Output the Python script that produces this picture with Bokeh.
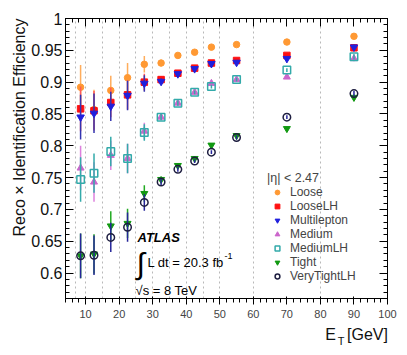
import numpy as np
from bokeh.plotting import figure
from bokeh.models import (FixedTicker, LinearAxis, Range1d, Label, Legend, LegendItem,
                          ColumnDataSource, CustomJSTickFormatter, Title)
from bokeh.embed import file_html
from bokeh.resources import INLINE

# ---------------- data ----------------
et_centers = [8.5, 12.5, 17.5, 22.5, 27.5, 32.5, 37.5, 42.5, 47.5, 55, 70, 90]
bin_edges = [7, 10, 15, 20, 25, 30, 35, 40, 45, 50, 60, 80]

eff_loose = [0.892, 0.857, 0.887, 0.907, 0.928, 0.930, 0.942, 0.947, 0.955, 0.959, 0.963, 0.972]
eff_looselh = [0.858, 0.855, 0.868, 0.880, 0.900, 0.904, 0.914, 0.922, 0.930, 0.934, 0.942, 0.954]
eff_multilepton = [0.845, 0.851, 0.862, 0.879, 0.898, 0.901, 0.913, 0.921, 0.929, 0.931, 0.937, 0.955]
eff_medium = [0.765, 0.743, 0.785, 0.780, 0.823, 0.845, 0.867, 0.884, 0.898, 0.904, 0.908, 0.937]
eff_mediumlh = [0.747, 0.757, 0.791, 0.780, 0.821, 0.845, 0.867, 0.884, 0.893, 0.904, 0.919, 0.940]
eff_tight = [0.627, 0.630, 0.674, 0.678, 0.725, 0.747, 0.769, 0.780, 0.801, 0.816, 0.827, 0.876]
eff_verytightlh = [0.627, 0.628, 0.656, 0.672, 0.711, 0.743, 0.763, 0.776, 0.790, 0.813, 0.845, 0.882]
eff_err = [0.035, 0.031, 0.023, 0.023, 0.013, 0.005, 0.004, 0.003, 0.003, 0.003, 0.003, 0.004]

series_names = ["Loose", "LooseLH", "Multilepton", "Medium", "MediumLH", "Tight", "VeryTightLH"]
series_values = [eff_loose, eff_looselh, eff_multilepton, eff_medium, eff_mediumlh, eff_tight, eff_verytightlh]
legend_header = "|η| < 2.47"

x_major_ticks = [10, 20, 30, 40, 50, 60, 70, 80, 90, 100]
y_major_ticks = [0.6, 0.65, 0.7, 0.75, 0.8, 0.85, 0.9, 0.95, 1.0]
y_tick_labels = ["0.6", "0.65", "0.7", "0.75", "0.8", "0.85", "0.9", "0.95", "1"]

# ---------------- styles ----------------
styles = {
    "Loose":       dict(marker="circle", color="#ff9933", bar="#ffad5c", fill=True, size=6.5),
    "LooseLH":     dict(marker="square", color="#ff1010", bar="#ff5a5a", fill=True, size=6.5),
    "Multilepton": dict(marker="inverted_triangle", color="#2020dd", bar="#3434b0", fill=True, size=7.5),
    "Medium":      dict(marker="triangle", color="#cc66cc", bar="#dd80dd", fill=True, size=7),
    "MediumLH":    dict(marker="square", color="#33aaaa", bar="#33aaaa", fill=False, size=7.5),
    "Tight":       dict(marker="inverted_triangle", color="#119911", bar="#22aa22", fill=True, size=7),
    "VeryTightLH": dict(marker="circle", color="#1e1e40", bar="#26269a", fill=False, size=7.5),
}

X0, X1 = 4, 100
Y0, Y1 = 0.56, 1.0
FONT = "Liberation Sans"
TXT = "#111111"

# window-pixel frame geometry (used only to place text annotations)
W, H = 407, 355
FL, FR, FT, FB = 65, 387, 18, 298


def dx(px):
    return X0 + (px - FL) * (X1 - X0) / (FR - FL)


def dy(py):
    return Y1 - (py - FT) * (Y1 - Y0) / (FB - FT)


p = figure(width=W, height=H, x_range=Range1d(X0, X1), y_range=Range1d(Y0, Y1),
           output_backend="svg", toolbar_location=None,
           min_border_left=FL, min_border_right=W - FR, min_border_top=FT, min_border_bottom=H - FB)
p.background_fill_color = "white"
p.border_fill_color = "white"
p.outline_line_color = "black"

x_minor = list(np.arange(4, 101, 2))
y_minor = list(np.round(np.arange(0.56, 1.0001, 0.01), 2))

xt = FixedTicker(ticks=x_major_ticks, minor_ticks=x_minor)
yt = FixedTicker(ticks=y_major_ticks, minor_ticks=y_minor)

for ax in p.xaxis:
    ax.ticker = xt
for ax in p.yaxis:
    ax.ticker = yt
    ax.major_label_overrides = {t: l for t, l in zip(y_major_ticks, y_tick_labels)}

top_ax = LinearAxis(ticker=xt, formatter=CustomJSTickFormatter(code="return ''"))
right_ax = LinearAxis(ticker=yt, formatter=CustomJSTickFormatter(code="return ''"))
p.add_layout(top_ax, "above")
p.add_layout(right_ax, "right")

for ax in [p.xaxis[0], p.yaxis[0], top_ax, right_ax]:
    ax.major_tick_in = 8
    ax.major_tick_out = 0
    ax.minor_tick_in = 4
    ax.minor_tick_out = 0
    ax.axis_line_color = "black"
    ax.major_tick_line_color = "black"
    ax.minor_tick_line_color = "black"
    ax.major_label_text_font = FONT
    ax.major_label_text_font_size = "16px"
    ax.major_label_text_color = TXT
    ax.major_label_standoff = 3
p.xaxis[0].major_label_standoff = 1
for ax in [top_ax, right_ax]:
    ax.major_label_text_font_size = "0px"
    ax.major_label_standoff = 0

# x-axis title "E_T [GeV]" built from two label-only axes (E, [GeV] and subscript T)
x_pos_E, x_pos_T, x_pos_unit = dx(330), dx(340.5), dx(367)
title_ax1 = LinearAxis(ticker=FixedTicker(ticks=[x_pos_E, x_pos_unit]),
                       major_label_overrides={x_pos_E: "E", x_pos_unit: "[GeV]"})
title_ax2 = LinearAxis(ticker=FixedTicker(ticks=[x_pos_T]),
                       major_label_overrides={x_pos_T: "T"})
for ax, fs, so in [(title_ax1, "16px", 5), (title_ax2, "11px", -11)]:
    ax.axis_line_color = None
    ax.major_tick_line_color = None
    ax.minor_tick_line_color = None
    ax.major_tick_out = 0
    ax.major_tick_in = 0
    ax.major_label_text_font = FONT
    ax.major_label_text_font_size = fs
    ax.major_label_text_color = TXT
    ax.major_label_standoff = so
p.add_layout(title_ax1, "below")
p.add_layout(title_ax2, "below")

# y-axis title, top aligned like the original
ytitle = Title(text="Reco × Identification Efficiency", align="right", text_font=FONT,
               text_font_size="16px", text_font_style="normal", text_color=TXT, standoff=2)
p.add_layout(ytitle, "left")

p.xgrid.ticker = FixedTicker(ticks=bin_edges)
p.xgrid.grid_line_color = "#b8b8b8"
p.xgrid.grid_line_dash = "2 3"
p.xgrid.grid_line_width = 1
p.ygrid.visible = False

x_arr = np.array(et_centers)
err_arr = np.array(eff_err)
items = []
for name, vals in zip(series_names, series_values):
    st = styles[name]
    v = np.array(vals)
    src = ColumnDataSource(dict(x=x_arr, y=v, lo=v - err_arr, hi=v + err_arr))
    p.segment(x0="x", y0="lo", x1="x", y1="hi", source=src, line_color=st["bar"], line_width=1.5)
    r = p.scatter(x="x", y="y", source=src, marker=st["marker"], size=st["size"],
                  line_color=st["color"], line_width=1.5 if not st["fill"] else 1,
                  fill_color=st["color"] if st["fill"] else None)
    items.append(LegendItem(label=name, renderers=[r]))

legend = Legend(items=items, location=(202, 15), title=legend_header)
legend.background_fill_alpha = 0
legend.border_line_color = None
legend.padding = 0
legend.margin = 0
legend.spacing = 0
legend.label_text_font = FONT
legend.label_text_font_size = "12px"
legend.label_height = 12
legend.glyph_height = 12
legend.glyph_width = 20
legend.label_standoff = 3
legend.title_text_font = FONT
legend.title_text_font_size = "12.5px"
legend.title_text_font_style = "normal"
legend.title_standoff = 0
p.add_layout(legend)

# ATLAS text block
p.add_layout(Label(x=dx(137), y=dy(237), text="ATLAS", text_font=FONT, text_font_size="13px",
                   text_font_style="bold italic", text_baseline="middle", text_color="black"))
p.add_layout(Label(x=dx(136), y=dy(263), text="∫", text_font=FONT, text_font_size="30px",
                   text_baseline="middle", text_color="black"))
p.add_layout(Label(x=dx(147), y=dy(262), text="L dt = 20.3 fb", text_font=FONT, text_font_size="13px",
                   text_baseline="middle", text_color="black"))
p.add_layout(Label(x=dx(224), y=dy(255), text="-1", text_font=FONT, text_font_size="9px",
                   text_baseline="middle", text_color="black"))
p.add_layout(Label(x=dx(135), y=dy(290), text="√s = 8 TeV", text_font=FONT, text_font_size="13px",
                   text_baseline="middle", text_color="black"))

open("out.html", "w").write(file_html(p, INLINE))
